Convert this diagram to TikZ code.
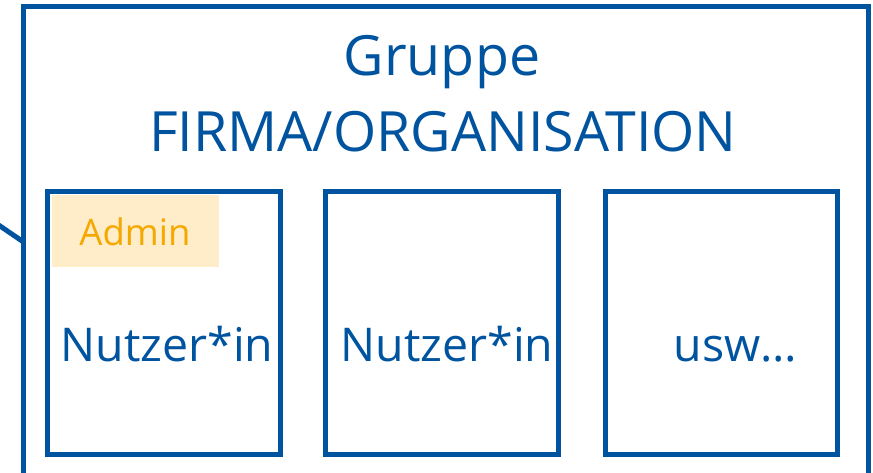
\documentclass[tikz,border=0pt]{standalone}
\usepackage{fontspec}
\setmainfont{Open Sans}
\usetikzlibrary{calc}
\definecolor{dblue}{RGB}{0,84,159}
\definecolor{aorange}{RGB}{245,168,0}
\definecolor{afill}{RGB}{255,236,200}
\begin{document}
\begin{tikzpicture}[x=1pt,y=-1pt,
  frame/.style={draw=dblue,line width=5pt,rectangle,inner sep=0pt,outer sep=0pt},
  userbox/.style={frame,minimum width=232.5pt,minimum height=262.5pt},
  bigtxt/.style={text=dblue,font=\fontsize{55.5}{60}\selectfont,anchor=base,inner sep=0pt},
  boxtxt/.style={text=dblue,font=\fontsize{46.5}{56}\selectfont,anchor=base,inner sep=0pt},
  admintag/.style={fill=afill,minimum width=167pt,minimum height=72pt,inner sep=0pt}
]
\useasboundingbox (0,0) rectangle (873,473);
\clip (0,0) rectangle (873,473);
\node[frame,minimum width=845pt,minimum height=513.5pt] (outer) at (446,263.25) {};
\coordinate (cin) at (-30,205.5);
\coordinate (cend) at ($(outer.north west)+(0,235.5)$);
\draw[dblue,line width=5pt] (cin) -- (cend);
\node[bigtxt] (t1) at (442,76) {Gruppe};
\node[bigtxt] (t2) at (443,152) {FIRMA/ORGANISATION};
\node[userbox] (b1) at (163.75,322.75) {};
\node[userbox] (b2) at (441.75,322.75) {};
\node[userbox] (b3) at (721.25,322.75) {};
\node[admintag] (adm) at (135.5,231) {};
\node[text=aorange,font=\fontsize{36.5}{40}\selectfont,anchor=base,inner sep=0pt] (admt) at (135,246) {Admin};
\node[boxtxt] (n1) at (167,361) {Nutzer*in};
\node[boxtxt] (n2) at (447,361) {Nutzer*in};
\node[boxtxt] (n3) at (735.5,361) {usw…};
\end{tikzpicture}
\end{document}
